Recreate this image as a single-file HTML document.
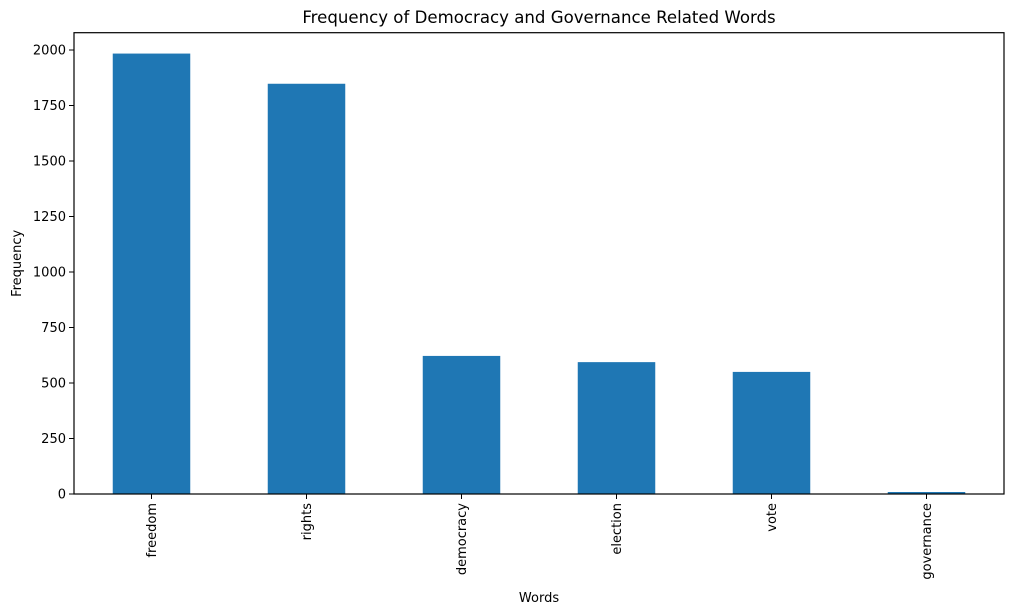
<!DOCTYPE html>
<html><head><meta charset="utf-8"><style>body{margin:0;background:#fff}svg{display:block}text{font-family:"DejaVu Sans","Liberation Sans",sans-serif;fill:#000}</style></head>
<body>
<svg id="c" width="1014" height="615"></svg>
<script>
const categories=["freedom","rights","democracy","election","vote","governance"];
const values=[1984,1848,622,594,550,9];
const yTicks=[0,250,500,750,1000,1250,1500,1750,2000];
const L=74,R=1004,T=32.7,B=494,yMax=2078;
const ns="http://www.w3.org/2000/svg",svg=document.getElementById('c');
const x=i=>L+(i+0.5)*(R-L)/categories.length;
const y=v=>B-(v/yMax)*(B-T);
function mk(t,a,txt){const e=document.createElementNS(ns,t);for(const k in a)e.setAttribute(k,a[k]);if(txt!==undefined)e.textContent=txt;svg.appendChild(e);return e;}
const bw=0.5*(R-L)/categories.length;
categories.forEach((c,i)=>{
 const r=mk('rect',{x:x(i)-bw/2,y:y(values[i]),width:bw,height:B-y(values[i]),fill:'#1f77b4'});
 
 
 mk('line',{x1:x(i),x2:x(i),y1:B,y2:B+5,stroke:'#000','stroke-width':1});
 const t=mk('text',{x:0,y:0,'font-size':13,'text-anchor':'end',transform:`translate(${x(i)+4.5},${B+9}) rotate(-90)`},c);
 
 
});
yTicks.forEach(v=>{
 mk('line',{x1:L-5,x2:L,y1:y(v),y2:y(v),stroke:'#000','stroke-width':1});
 const t=mk('text',{x:L-8,y:y(v)+4.5,'font-size':13,'text-anchor':'end'},v);
 
 
});
const f=mk('rect',{x:L,y:T,width:R-L,height:B-T,fill:'none',stroke:'#000','stroke-width':1.2});


const tt=mk('text',{x:(L+R)/2,y:23,'font-size':16.6,'text-anchor':'middle'},'Frequency of Democracy and Governance Related Words');


const xt=mk('text',{x:(L+R)/2,y:602,'font-size':13,'text-anchor':'middle'},'Words');


const yt=mk('text',{x:0,y:0,'font-size':13,'text-anchor':'middle',transform:`translate(21,${(T+B)/2}) rotate(-90)`},'Frequency');


</script>
</body></html>
